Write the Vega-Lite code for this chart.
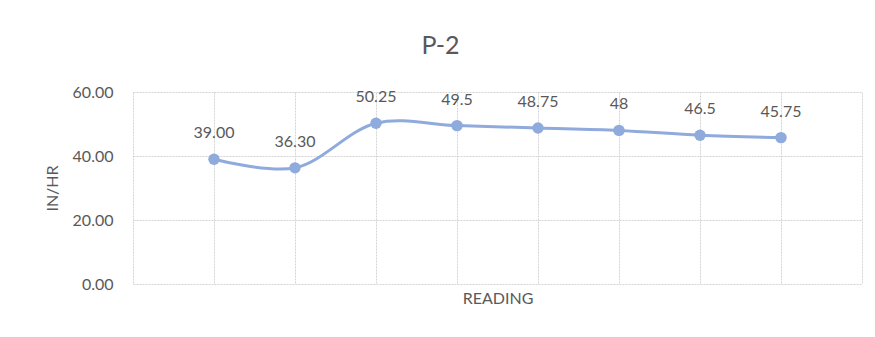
{
  "$schema": "https://vega.github.io/schema/vega-lite/v6.json",
  "width": 729,
  "height": 192,
  "autosize": {"type": "none"},
  "padding": {"left": 133, "top": 92, "right": 13, "bottom": 53},
  "background": "white",
  "config": {
    "font": "Lato",
    "view": {"stroke": null}
  },
  "title": {
    "text": "P-2",
    "fontSize": 25,
    "fontWeight": "normal",
    "color": "#595959",
    "anchor": "middle",
    "dx": -57,
    "offset": 25,
    "font": "Lato"
  },
  "data": {
    "values": [
      {"reading": 1, "value": 39.0, "label": "39.00"},
      {"reading": 2, "value": 36.3, "label": "36.30"},
      {"reading": 3, "value": 50.25, "label": "50.25"},
      {"reading": 4, "value": 49.5, "label": "49.5"},
      {"reading": 5, "value": 48.75, "label": "48.75"},
      {"reading": 6, "value": 48.0, "label": "48"},
      {"reading": 7, "value": 46.5, "label": "46.5"},
      {"reading": 8, "value": 45.75, "label": "45.75"}
    ]
  },
  "encoding": {
    "x": {
      "field": "reading",
      "type": "quantitative",
      "scale": {"domain": [0, 9], "nice": false, "zero": false},
      "axis": {
        "title": "READING",
        "titleFontSize": 16,
        "titleFontWeight": "normal",
        "titleColor": "#595959",
        "titlePadding": 6,
        "labels": false,
        "ticks": false,
        "domain": false,
        "values": [0, 1, 2, 3, 4, 5, 6, 7, 8, 9],
        "grid": true,
        "gridColor": "#d4d4d4",
        "gridDash": [2, 1]
      }
    },
    "y": {
      "field": "value",
      "type": "quantitative",
      "scale": {"domain": [0, 60], "nice": false},
      "axis": {
        "title": "IN/HR",
        "titleFontSize": 16,
        "titleFontWeight": "normal",
        "titleColor": "#595959",
        "titlePadding": 12,
        "values": [0, 20, 40, 60],
        "format": ".2f",
        "labelFontSize": 16,
        "labelColor": "#595959",
        "labelPadding": 20,
        "ticks": false,
        "domain": false,
        "grid": true,
        "gridColor": "#d4d4d4",
        "gridDash": [2, 1]
      }
    }
  },
  "layer": [
    {
      "mark": {"type": "line", "interpolate": "catmull-rom", "color": "#8FAADC", "strokeWidth": 3}
    },
    {
      "mark": {"type": "point", "filled": true, "color": "#8FAADC", "size": 130, "opacity": 1}
    },
    {
      "mark": {"type": "text", "dy": -26, "fontSize": 16, "color": "#595959"},
      "encoding": {"text": {"field": "label"}}
    }
  ]
}
